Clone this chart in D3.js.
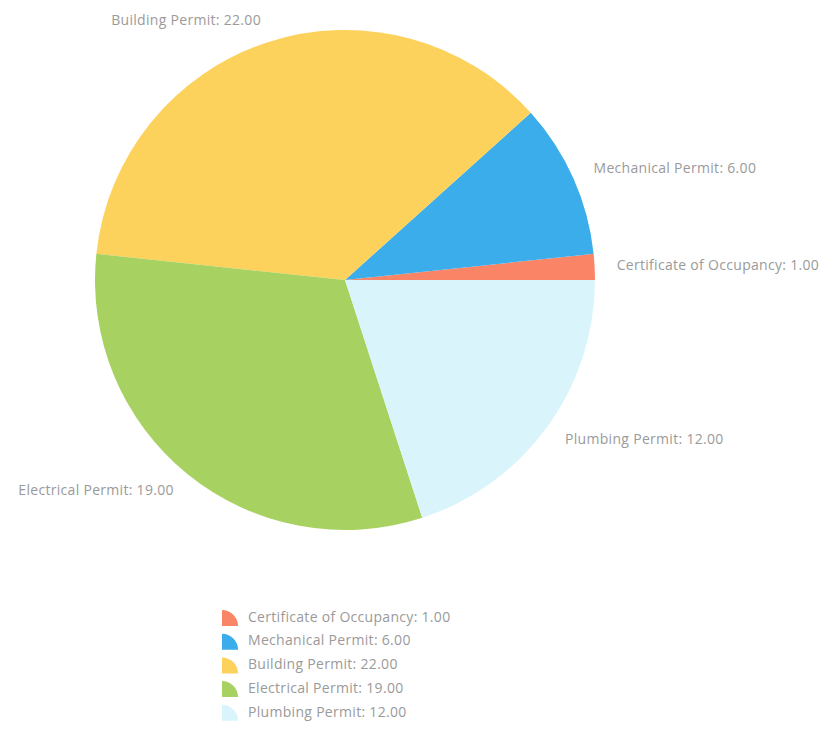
<!DOCTYPE html>
<html>
<head>
<meta charset="utf-8">
<script src="https://cdn.jsdelivr.net/npm/d3@7"></script>
<style>
  html, body { margin: 0; padding: 0; background: #fff; }
  svg { display: block; }
  text { font-family: "Open Sans", "DejaVu Sans", sans-serif; }
</style>
</head>
<body>
<svg id="chart" width="825" height="729"></svg>
<script>
// Permit counts by type
const categories = ["Certificate of Occupancy", "Mechanical Permit", "Building Permit", "Electrical Permit", "Plumbing Permit"];
const values = [1, 6, 22, 19, 12];
const colors = ["#fa8466", "#3badea", "#fdd25c", "#a7d160", "#d9f5fb"];

const data = categories.map((c, i) => ({ name: c, value: values[i] }));

const svg = d3.select("#chart");
const cx = 345, cy = 280, radius = 250, labelRadius = 272;

const color = d3.scaleOrdinal().domain(categories).range(colors);

// Slices run counter-clockwise starting from 3 o'clock
const pie = d3.pie()
  .value(d => d.value)
  .sort(null)
  .startAngle(Math.PI / 2)
  .endAngle(Math.PI / 2 - 2 * Math.PI);

const arcs = pie(data);
const arc = d3.arc().innerRadius(0).outerRadius(radius);

const g = svg.append("g").attr("transform", `translate(${cx},${cy})`);

g.selectAll("path.slice")
  .data(arcs)
  .join("path")
  .attr("class", "slice")
  .attr("d", arc)
  .attr("fill", d => color(d.data.name));

const fmt = d3.format(".2f");
const labelArc = d3.arc().innerRadius(labelRadius).outerRadius(labelRadius);

g.selectAll("text.label")
  .data(arcs)
  .join("text")
  .attr("class", "label")
  .attr("transform", d => `translate(${labelArc.centroid(d)})`)
  .attr("text-anchor", d => {
    const mid = (d.startAngle + d.endAngle) / 2;
    return Math.sin(mid) >= 0 ? "start" : "end";
  })
  .attr("dominant-baseline", "middle")
  .attr("font-size", 14)
  .attr("letter-spacing", 0.3)
  .attr("fill", "#9a9a9a")
  .text(d => `${d.data.name}: ${fmt(d.data.value)}`);

// Legend
const legend = svg.append("g").attr("transform", "translate(222,610)");
const rowH = 23.7, iw = 16;

const rows = legend.selectAll("g.row")
  .data(data)
  .join("g")
  .attr("class", "row")
  .attr("transform", (d, i) => `translate(0,${i * rowH})`);

rows.append("path")
  .attr("d", `M0,${iw} L0,0 A${iw},${iw} 0 0 1 ${iw},${iw} Z`)
  .attr("fill", d => color(d.name));

rows.append("text")
  .attr("x", 26)
  .attr("y", iw / 2)
  .attr("dominant-baseline", "middle")
  .attr("font-size", 14)
  .attr("letter-spacing", 0.3)
  .attr("fill", "#9a9a9a")
  .text(d => `${d.name}: ${fmt(d.value)}`);
</script>
</body>
</html>
